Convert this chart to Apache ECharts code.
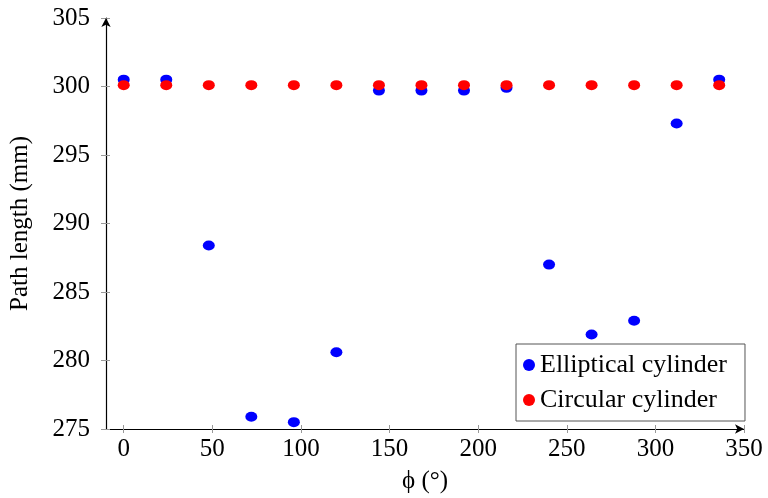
<!DOCTYPE html>
<html>
<head>
<meta charset="utf-8">
<script src="https://cdn.jsdelivr.net/npm/echarts@6/dist/echarts.min.js"></script>
<style>
  html, body { margin: 0; padding: 0; background: #fff; }
  #chart { width: 768px; height: 498px; }
</style>
</head>
<body>
<div id="chart"></div>
<script>
var phi = [0, 24, 48, 72, 96, 120, 144, 168, 192, 216, 240, 264, 288, 312, 336];
var elliptical = [300.5, 300.5, 288.4, 275.9, 275.5, 280.6, 299.7, 299.7, 299.7, 299.9, 287.0, 281.9, 282.9, 297.3, 300.5];
var circular = [300.1, 300.1, 300.1, 300.1, 300.1, 300.1, 300.1, 300.1, 300.1, 300.1, 300.1, 300.1, 300.1, 300.1, 300.1];
var xTicks = [0, 50, 100, 150, 200, 250, 300, 350];

function pairs(xs, ys) {
	var out = [];
	for (var i = 0; i < xs.length; i++) out.push([xs[i], ys[i]]);
	return out;
}

var font = 'Liberation Serif, Times New Roman, serif';
var tickStyle = { color: '#999', width: 1 };

var chart = echarts.init(document.getElementById('chart'));
chart.setOption({
	animation: false,
	textStyle: { fontFamily: font },
	grid: { left: 106, right: 24, top: 18, bottom: 69, containLabel: false, outerBoundsMode: 'none' },
	legend: {
		orient: 'vertical',
		left: 516, top: 344,
		padding: [8, 18, 8, 7],
		itemGap: 9,
		itemWidth: 12, itemHeight: 12,
		borderColor: '#555', borderWidth: 1,
		textStyle: { fontFamily: font, fontSize: 26, color: '#000' },
		data: [
			{ name: 'Elliptical cylinder', icon: 'circle' },
			{ name: 'Circular cylinder', icon: 'circle' }
		]
	},
	xAxis: [{
		type: 'value', min: -10, max: 350,
		name: 'ϕ (°)', nameLocation: 'middle', nameGap: 40,
		nameTextStyle: { fontFamily: font, fontSize: 25, color: '#000' },
		axisLine: { onZero: false, lineStyle: { color: '#000', width: 1.2 }, symbol: ['none', 'arrow'], symbolSize: [7, 9] },
		axisTick: { length: 4, lineStyle: tickStyle, customValues: xTicks },
		axisLabel: { fontFamily: font, fontSize: 25, color: '#000', margin: 8, customValues: xTicks },
		splitLine: { show: false }
	}, {
		type: 'value', min: -10, max: 350, position: 'bottom',
		axisLine: { show: false, onZero: false },
		axisTick: { inside: true, length: 4, lineStyle: tickStyle, customValues: xTicks },
		axisLabel: { show: false },
		splitLine: { show: false }
	}],
	yAxis: [{
		type: 'value', min: 275, max: 305, interval: 5,
		name: 'Path length (mm)', nameLocation: 'middle', nameGap: 73, nameRotate: 90,
		nameTextStyle: { fontFamily: font, fontSize: 25, color: '#000' },
		axisLine: { show: true, onZero: false, lineStyle: { color: '#000', width: 1.2 }, symbol: ['none', 'arrow'], symbolSize: [7, 9] },
		axisTick: { show: true, length: 5, lineStyle: tickStyle },
		axisLabel: { fontFamily: font, fontSize: 25, color: '#000', margin: 16 },
		splitLine: { show: false }
	}, {
		type: 'value', min: 275, max: 305, interval: 5, position: 'left',
		axisLine: { show: false, onZero: false },
		axisTick: { show: true, inside: true, length: 4, lineStyle: tickStyle },
		axisLabel: { show: false },
		splitLine: { show: false }
	}],
	series: [{
		name: 'Elliptical cylinder',
		type: 'scatter',
		symbol: 'circle',
		symbolSize: [12, 10],
		itemStyle: { color: '#0000ff', opacity: 1 },
		data: pairs(phi, elliptical)
	}, {
		name: 'Circular cylinder',
		type: 'scatter',
		symbol: 'circle',
		symbolSize: [12, 10],
		itemStyle: { color: '#ff0000', opacity: 1 },
		data: pairs(phi, circular)
	}]
});
</script>
</body>
</html>
